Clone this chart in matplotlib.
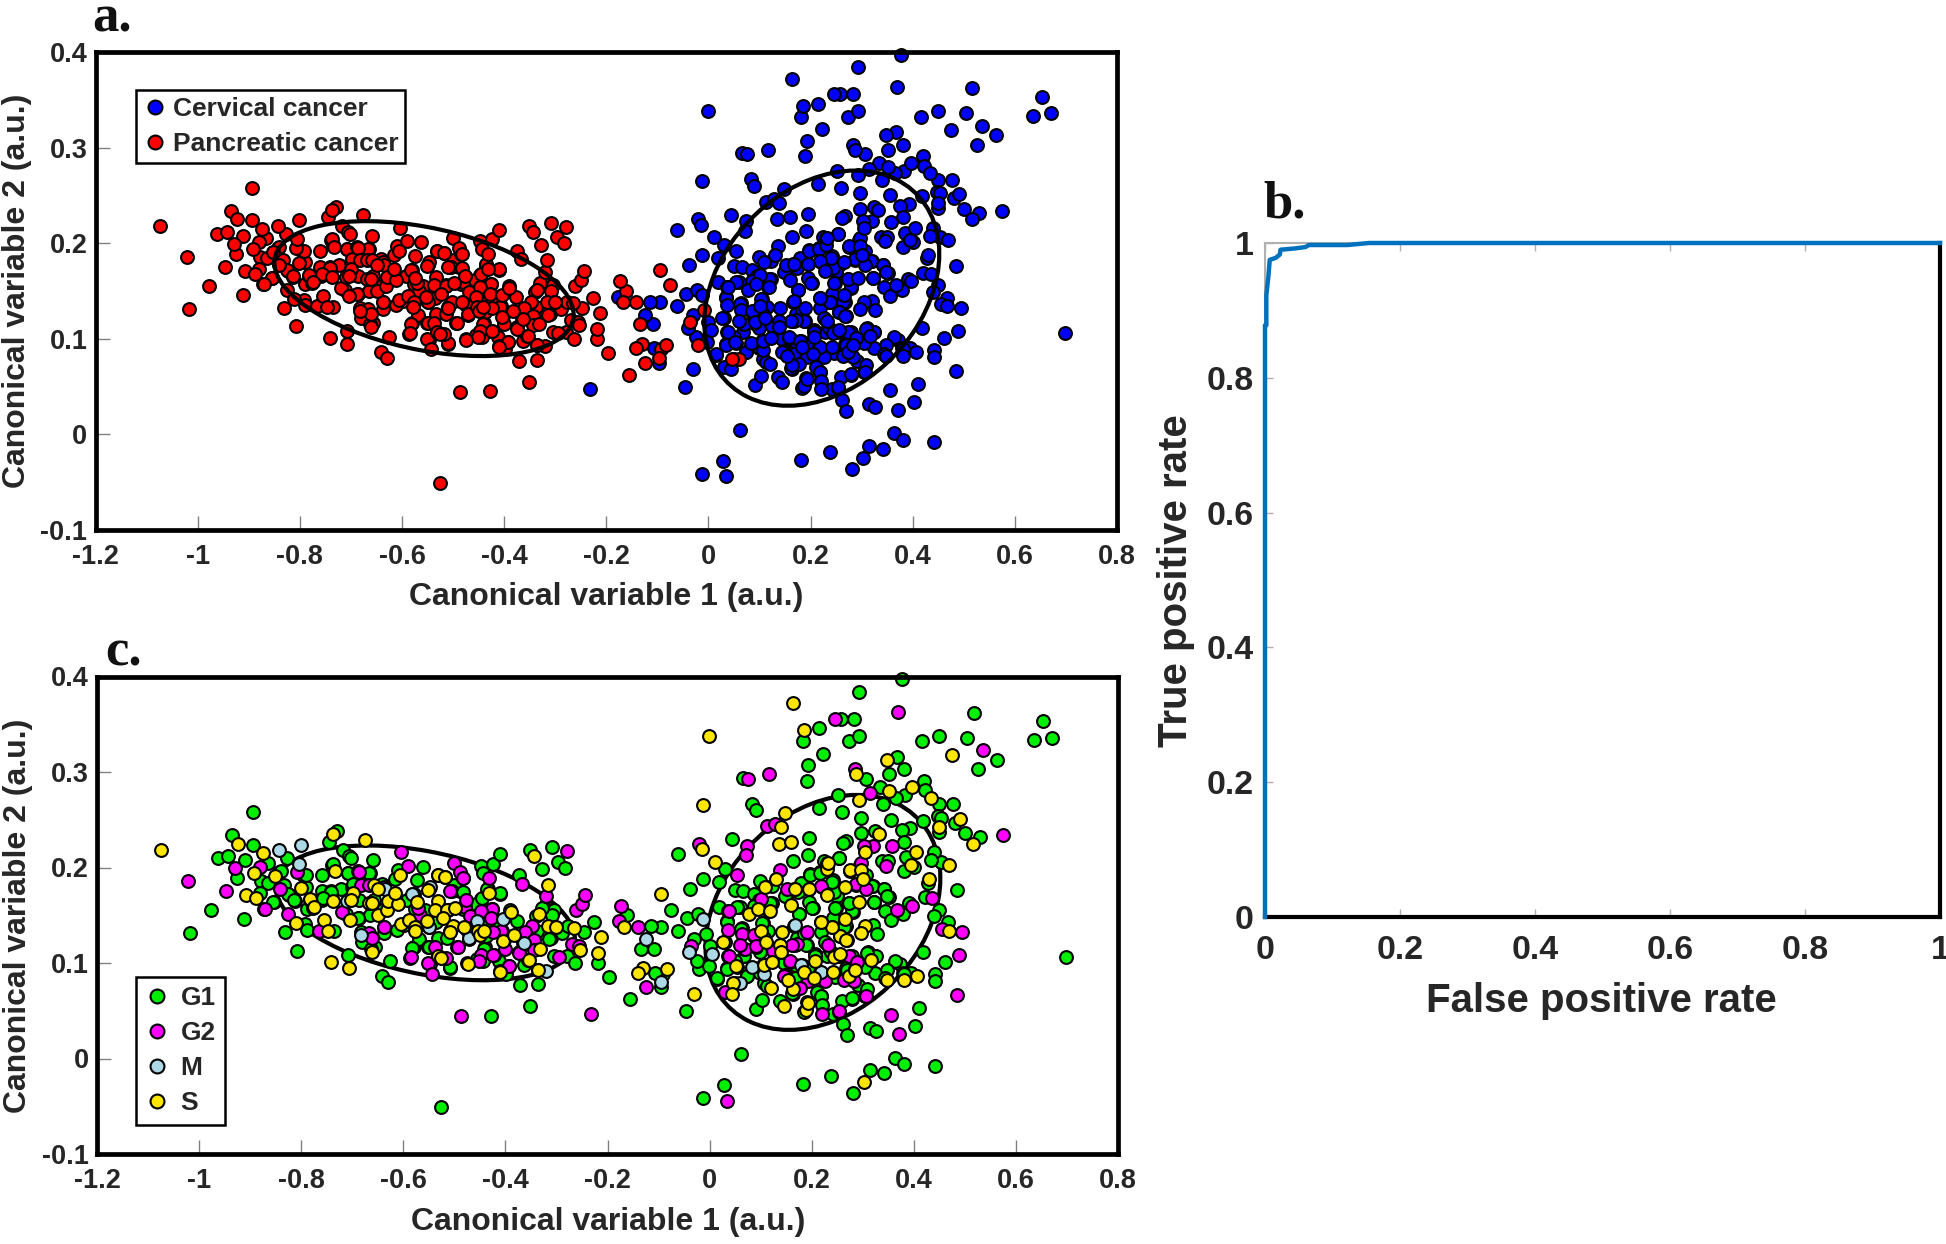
import numpy as np
import matplotlib
matplotlib.use('Agg')
import matplotlib.pyplot as plt
from matplotlib.lines import Line2D
from matplotlib.patches import Ellipse

# canonical variable 1, 2, split by cancer and cell cycle phase
pancreatic_s = [(-1.074,.218),(-.924,.225),(-.874,.215),(-.892,.194),(-.852,.191),(-.908,.171),(-.888,.168),(-.738,.235),
    (-.676,.229),(-.733,.196),(-.801,.179),(-.811,.142),(-.783,.167),(-.774,.159),(-.738,.165),(-.755,.145),(-.747,.133),
    (-.704,.145),(-.699,.173),(-.703,.166),(-.658,.182),(-.649,.177),(-.668,.163),(-.661,.163),(-.649,.150),(-.631,.155),
    (-.629,.165),(-.611,.162),(-.606,.192),(-.616,.173),(-.605,.141),(-.588,.145),(-.577,.138),(-.578,.133),(-.574,.164),
    (-.551,.176),(-.554,.144),(-.532,.192),(-.518,.190),(-.533,.165),(-.537,.156),(-.514,.155),(-.523,.147),(-.499,.158),
    (-.503,.139),(-.509,.132),(-.482,.138),(-.454,.133),(-.450,.129),(-.432,.173),(-.441,.133),(-.404,.123),(-.383,.129),
    (-.390,.153),(-.335,.151),(-.317,.182),(-.317,.139),(-.301,.138),(-.266,.137),(-.332,.115),(-.354,.103),(-.336,.093),
    (-.253,.114),(-.212,.127),(-.219,.110),(-.168,.138),(-.131,.095),(-.141,.090),(-.411,.091),(-.474,.099),(-.532,.107),
    (-.526,.105),(-.661,.112),(-.741,.101),(-.707,.095),(-.343,.212),(-.095,.172),(-.084,.094),(.046,.079)]
pancreatic_g2 = [(-1.022,.186),(-.929,.199),(-.947,.175),(-.881,.201),(-.841,.177),(-.871,.157),(-.825,.151),(-.808,.195),
    (-.766,.134),(-.720,.153),(-.686,.195),(-.683,.182),(-.668,.182),(-.638,.180),(-.667,.131),(-.638,.138),(-.661,.126),
    (-.604,.216),(-.591,.202),(-.584,.106),(-.537,.117),(-.552,.100),(-.544,.089),(-.517,.105),(-.500,.205),(-.489,.195),
    (-.483,.189),(-.509,.175),(-.480,.159),(-.477,.166),(-.469,.149),(-.493,.117),(-.448,.108),(-.452,.102),(-.424,.108),
    (-.432,.189),(-.426,.157),(-.447,.154),(-.409,.133),(-.401,.115),(-.392,.097),(-.368,.183),(-.374,.110),(-.348,.139),
    (-.362,.132),(-.344,.124),(-.343,.114),(-.320,.170),(-.279,.217),(-.262,.155),(-.250,.162),(-.244,.171),(-.270,.120),
    (-.256,.118),(-.295,.106),(-.174,.160),(-.141,.138),(-.125,.075),(-.486,.044),(-.567,.150),(-.424,.132),(-.428,.147),
    (-.571,.158),(-.036,.118)]
pancreatic_m = [(-.843,.218),(-.801,.224),(-.805,.204),(-.636,.177),(-.683,.129),(-.582,.172),(-.547,.180),(-.550,.138),
    (-.471,.126),(-.456,.144),(-.404,.146),(-.364,.121),(-.321,.092),(-.710,.165),(-.096,.080),(.060,.079)]
pancreatic_g1 = [(-1.017,.131),(-.977,.155),(-.962,.210),(-.943,.212),(-.935,.234),(-.926,.189),(-.911,.208),(-.912,.146),
    (-.894,.258),(-.894,.224),(-.879,.186),(-.866,.205),(-.865,.184),(-.854,.164),(-.843,.195),(-.828,.210),(-.834,.182),
    (-.823,.171),(-.813,.165),(-.832,.132),(-.808,.113),(-.792,.141),(-.789,.135),(-.789,.157),(-.796,.192),(-.792,.180),
    (-.760,.192),(-.760,.175),(-.759,.166),(-.742,.175),(-.723,.177),(-.740,.203),(-.745,.227),(-.729,.238),(-.718,.218),
    (-.706,.212),(-.702,.210),(-.708,.194),(-.700,.180),(-.736,.133),(-.708,.108),(-.687,.147),(-.683,.132),(-.680,.122),
    (-.665,.194),(-.659,.208),(-.665,.150),(-.638,.131),(-.626,.102),(-.642,.086),(-.629,.080),(-.656,.117),(-.612,.135),
    (-.616,.188),(-.610,.197),(-.574,.187),(-.562,.201),(-.580,.117),(-.569,.125),(-.552,.117),(-.509,.095),(-.533,.126),
    (-.514,.126),(-.526,-.051),(-.447,.202),(-.424,.204),(-.410,.214),(-.443,.194),(-.410,.172),(-.447,.167),(-.435,.177),
    (-.458,.162),(-.488,.175),(-.501,.182),(-.432,.137),(-.439,.117),(-.443,.102),(-.413,.102),(-.399,.089),(-.377,.144),
    (-.371,.077),(-.364,.098),(-.351,.055),(-.428,.045),(-.336,.078),(-.374,.192),(-.351,.218),(-.328,.198),(-.308,.221),
    (-.296,.206),(-.283,.200),(-.324,.159),(-.304,.156),(-.308,.150),(-.332,.131),(-.311,.126),(-.289,.131),(-.277,.139),
    (-.247,.132),(-.226,.143),(-.304,.107),(-.279,.107),(-.264,.100),(-.219,.100),(-.197,.085),(-.155,.062),(-.161,.150),
    (-.076,.156),(-.134,.115),(-.092,.089),(-.020,.094),(-.008,.130),
    (-.790,.180),(-.776,.158),(-.708,.194),(-.698,.183),(-.689,.196),(-.667,.194),(-.642,.183),(-.657,.166),(-.686,.166),
    (-.611,.163),(-.592,.166),(-.580,.172),(-.550,.177),(-.532,.192),(-.518,.190),(-.484,.189),(-.505,.175),(-.483,.174),
    (-.513,.156),(-.484,.157),(-.577,.157),(-.558,.155),(-.639,.155),(-.638,.138),(-.599,.140),(-.577,.137),(-.550,.138),
    (-.535,.143),(-.509,.133),(-.475,.135),(-.449,.143),(-.426,.157),(-.445,.168),(-.411,.173),(-.436,.178),(-.391,.155),
    (-.417,.144),(-.406,.134),(-.402,.124),(-.438,.128),(-.471,.125),(-.494,.117),(-.441,.115),(-.549,.117),(-.582,.116),
    (-.586,.105),(-.532,.107),(-.509,.096),(-.547,.099),(-.475,.100),(-.456,.104),(-.423,.108),(-.392,.097),(-.411,.092),
    (-.366,.121),(-.374,.112),(-.355,.103),(-.336,.093),(-.338,.133),(-.314,.125),(-.302,.138),(-.329,.158),(-.340,.149),
    (-.663,.115),(-.689,.147),(-.712,.151),(-.742,.174),(-.757,.168),(-.783,.166),(-.825,.172),(-.814,.166),(-.855,.164),
    (-.872,.157),(-.881,.173),(-.840,.196),(-.791,.192),(-.735,.198),(-.738,.204)]

cervical_s = [(-.001,.338),(-.012,.265),(.164,.372),(.185,.344),(.135,.225),(.159,.227),(.148,.257),(.139,.242),(-.015,.219),
    (.011,.206),(.078,.151),(.094,.157),(.119,.154),(.027,.122),(.100,.134),(.111,.122),(.141,.132),(.138,.119),(.139,.112),
    (.106,.098),(.052,.097),(.122,.101),(.044,.068),(.121,.074),(-.031,.068),(.145,.055),(.188,.051),(.193,.058),(.163,.073),
    (.153,.082),(.184,.091),(.205,.084),(.207,.102),(.242,.091),(.243,.106),(.255,.109),(.273,.086),(.284,.093),(.317,.103),
    (.347,.082),(.380,.082),(.406,.086),(.302,-.025),(.255,.128),(.239,.138),(.219,.143),(.266,.146),(.304,.139),(.296,.131),
    (.268,.124),(.293,.164),(.229,.171),(.265,.180),(.195,.178),(.167,.178),(.159,.161),(.131,.188),(.109,.180),(.230,.198),
    (.232,.205),(.275,.197),(.296,.197),(.301,.188),(.304,.216),(.332,.235),(.293,.271),(.286,.298),(.348,.313),(.352,.280),
    (.397,.284),(.434,.273),(.405,.216),(.394,.203),(.430,.188),(.449,.242),(.490,.251),(.516,.225),(.469,.203),(.475,.318),
    (.468,.134)]
cervical_g2 = [(.076,.293),(.117,.298),(.112,.243),(.128,.246),(.284,.303),(.245,.356),(.369,.363),(.535,.323),(.575,.234),
    (.314,.278),(.073,.223),(.072,.213),(-.021,.225),(.053,.192),(.137,.197),(.038,.154),(.100,.167),(.036,.135),(.064,.130),
    (.086,.129),(.070,.115),(.091,.118),(.059,.119),(.038,.107),(.171,.120),(.190,.132),(.232,.119),(.158,.102),(.151,.177),
    (.219,.181),(.286,.183),(.306,.177),(.297,.205),(.320,.223),(.303,.223),(.357,.222),(.346,.202),(.368,.156),(.396,.160),
    (.436,.168),(.456,.136),(.495,.132),(.488,.108),(.485,.066),(.356,.046),(.371,.026),(.254,.050),(.221,.047),(.307,.065),
    (.227,.081),(.263,.082),(.283,.081),(.273,.107),(.289,.101),(.193,.081),(.177,.074),(.145,.086),(.031,.070),(.034,-.044),
    (.125,.113),(.161,.119),(-.178,.144),(-.232,.047)]
cervical_m = [(-.013,.146),(.005,.109),(-.041,.111),(.083,.096),(.106,.088),(.167,.140),(.179,.098),(.218,.091),(-.124,.125)]
cervical_g1 = [(-.013,-.041),(.029,-.028),(.061,.005),(.182,-.027),(.238,-.018),(.281,-.036),(.315,-.012),(.342,-.015),
    (.364,.001),(.380,-.006),(.442,-.008),(-.046,.050),(.091,.052),(.102,.061),(.137,.060),(.262,.036),(.270,.025),(.314,.032),
    (.326,.029),(.402,.034),(.410,.053),(.699,.106),(.654,.353),(.635,.333),(.671,.336),(.517,.362),(.504,.336),(.449,.338),
    (.417,.332),(.563,.313),(.525,.303),(.293,.384),(.377,.397),(.283,.356),(.258,.356),(.214,.346),(.182,.332),(.273,.332),
    (.293,.338),(.223,.319),(.193,.307),(.190,.291),(.066,.294),(.367,.316),(.381,.303),(.351,.298),(.306,.293),(.334,.284),
    (.420,.291),(.422,.281),(.382,.276),(.365,.273),(.340,.266),(.252,.276),(.214,.262),(.260,.258),(.297,.252),(.083,.267),
    (.090,.260),(.477,.266),(.450,.266),(.447,.254),(.454,.252),(.480,.247),(.501,.236),(.530,.232),(.419,.249),(.450,.237),
    (.393,.241),(.376,.239),(.356,.250),(.381,.227),(.324,.238),(.297,.236),(.267,.228),(.262,.226),(.195,.231),(.192,.213),
    (.044,.230),(-.061,.214),(.163,.207),(.254,.210),(.225,.207),(.197,.193),(.216,.195),(.242,.187),(.180,.184),(.099,.186),
    (.122,.181),(.050,.176),(.065,.175),(.086,.172),(.122,.163),(.149,.170),(.174,.174),(.195,.164),(.203,.158),(.255,.177),
    (.249,.170),(.247,.158),(.273,.163),(.280,.153),(.176,.151),(.322,.164),(.320,.181),(.342,.177),(.351,.169),(.343,.154),
    (.356,.145),(.379,.151),(.391,.163),(.421,.169),(.454,.206),(.439,.216),(.434,.208),(.384,.211),(.400,.201),(.380,.196),
    (.337,.207),(.350,.207),(.428,.184),(.449,.156),(.439,.149),(.467,.143),(.484,.176),(.019,.185),(.031,.198),(-.012,.188),
    (-.038,.177),(.019,.159),(.059,.159),(-.044,.147),(-.023,.151),(-.062,.134),(-.095,.138),(-.114,.139),(-.109,.115),
    (.000,.118),(-.030,.125),(-.025,.102),(-.002,.097),(.014,.083),(.035,.095),(.073,.086),(-.107,.090),(-.096,.075),(.035,.144),
    (.063,.137),(.105,.142),(.115,.133),(.099,.111),(.068,.107),(.050,.102),(.190,.119),(.171,.126),(.219,.132),(.242,.147),
    (.267,.139),(.320,.140),(.327,.130),(.419,.111),(.461,.101),(.372,.099),(.363,.102),(.442,.088),(.442,.081),(.395,.090),
    (.379,.090),(.347,.093),(.324,.090),(.311,.111),(.324,.107),(.307,.098),(.268,.095),(.229,.107),(.206,.109),(.167,.098),
    (.145,.100),(.099,.090),(.219,.065),(.210,.070),(.163,.068),(.307,.072),(.291,.077),(.279,.062),(.260,.060),(.242,.047),
    (.107,.079),
    (.148,.170),(.165,.178),(.194,.178),(.220,.180),(.243,.174),(.286,.182),(.275,.196),(.307,.192),(.295,.203),(.253,.210),
    (.230,.205),(.197,.192),(.216,.194),(.240,.185),(.318,.181),(.341,.177),(.348,.170),(.322,.164),(.279,.154),(.273,.163),
    (.246,.158),(.201,.158),(.175,.151),(.166,.139),(.184,.130),(.218,.143),(.239,.138),(.263,.138),(.256,.128),(.269,.124),
    (.227,.122),(.237,.111),(.188,.119),(.168,.119),(.137,.113),(.090,.117),(.068,.115),(.107,.126),(.086,.128),(.062,.136),
    (.103,.142),(.116,.154),(.119,.163),(.096,.166),(.086,.160),(.054,.159),(.036,.154),(.034,.143),(.031,.122),(.037,.107),
    (.034,.094),(.054,.096),(.104,.098),(.157,.101),(.181,.098),(.201,.094),(.217,.091),(.246,.085),(.269,.093),(.284,.094),
    (.305,.096),(.325,.107),(.308,.110),(.279,.107),(.253,.107),(.207,.107),(.168,.084),(.148,.087),(.161,.069),(.191,.059),
    (.218,.065),(.220,.056),(.184,.049),(.253,.049),(.279,.063),(.305,.065),(.308,.073),(.344,.084),(.380,.089),(.112,.076),
    (.073,.086),(.014,.084),(.050,.079)]

# false positive rate, true positive rate of the ROC curve
roc_fpr = [0, 0, .002, .002, .005, .007, .016, .022, .023, .045, .06, .065, .122, .154, 1]
roc_tpr = [0, .878, .878, .923, .95, .975, .978, .983, .99, .992, .994, .997, .997, 1, 1]

canon_xticks = [-1.2, -1, -.8, -.6, -.4, -.2, 0, .2, .4, .6, .8]
canon_xlabels = ['-1.2', '-1', '-0.8', '-0.6', '-0.4', '-0.2', '0', '0.2', '0.4', '0.6', '0.8']
canon_yticks = [-.1, 0, .1, .2, .3, .4]
canon_ylabels = ['-0.1', '0', '0.1', '0.2', '0.3', '0.4']
roc_ticks = [0, .2, .4, .6, .8, 1]
roc_labels = ['0', '0.2', '0.4', '0.6', '0.8', '1']

W, H = 1946, 1244
TEXT = '#262626'
plt.rcParams['font.family'] = ['Liberation Sans', 'DejaVu Sans']
plt.rcParams['font.weight'] = 'bold'

fig = plt.figure(figsize=(W / 100, H / 100), dpi=100)


def box(left, top, right, bottom):
    return fig.add_axes([left / W, 1 - bottom / H, (right - left) / W, (bottom - top) / H])


def dots(ax, points, color, zorder=3):
    xy = np.array(points).T
    ax.scatter(xy[0], xy[1], s=85, c=color, edgecolors='black', linewidths=1.5, zorder=zorder, clip_on=False)


def canon_axes(ax):
    ax.set_xlim(-1.2, .8)
    ax.set_ylim(-.1, .4)
    ax.set_xticks(canon_xticks, canon_xlabels)
    ax.set_yticks(canon_yticks, canon_ylabels)
    ax.tick_params(direction='in', length=10, width=1, color='#808080', labelsize=19.5, labelcolor=TEXT)
    ax.tick_params(axis='x', pad=10)
    ax.tick_params(axis='y', pad=6)
    for spine in ax.spines.values():
        spine.set_linewidth(3.4)
        spine.set_zorder(6)


def ellipses(ax, zorder):
    ax.add_patch(Ellipse((-.557, .1525), .5886, .1296, angle=-5.58, fill=False, ec='black', lw=3, zorder=zorder))
    ax.add_patch(Ellipse((.222, .153), .4674, .2318, angle=11.74, fill=False, ec='black', lw=3, zorder=zorder))


def key(ax, names, colors, anchor, borderpad, spacing, textpad):
    handles = [Line2D([], [], ls='', marker='o', ms=10, mfc=c, mec='black', mew=1.5) for c in colors]
    leg = ax.legend(handles, names, loc='upper left', bbox_to_anchor=anchor, fontsize=19, fancybox=False,
                    framealpha=1, edgecolor='black', handlelength=.9, handletextpad=textpad, borderpad=borderpad,
                    labelspacing=spacing, labelcolor=TEXT, borderaxespad=0)
    leg.get_frame().set_linewidth(1.8)
    leg.set_zorder(7)


# a.
ax = box(95.6, 52, 1117, 530)
canon_axes(ax)
ellipses(ax, 5)
dots(ax, cervical_g1 + cervical_g2 + cervical_m + cervical_s, '#0000ff', 3)
dots(ax, pancreatic_g1 + pancreatic_g2 + pancreatic_m + pancreatic_s, '#ff0000', 4)
key(ax, ['Cervical cancer', 'Pancreatic cancer'], ['#0000ff', '#ff0000'], (.0396, .92), .25, .42, .25)

# c.
ax = box(97, 676.5, 1118, 1154)
canon_axes(ax)
ellipses(ax, 2)
dots(ax, pancreatic_g1 + cervical_g1, '#00ee00', 3)
dots(ax, pancreatic_g2 + cervical_g2, '#ff00ff', 3.1)
dots(ax, pancreatic_m + cervical_m, '#add8e6', 3.2)
dots(ax, pancreatic_s + cervical_s, '#ffe600', 3.3)
key(ax, ['G1', 'G2', 'M', 'S'], ['#00ee00', '#ff00ff', '#add8e6', '#ffe600'], (.038, .371), .35, .42, .45)

# b.
ax = box(1265, 243, 1940, 917)
ax.plot(roc_fpr, roc_tpr, color='#0072bd', lw=3.2, clip_on=False, zorder=4)
ax.set_xlim(0, 1)
ax.set_ylim(0, 1)
ax.set_xticks(roc_ticks, roc_labels)
ax.set_yticks(roc_ticks, roc_labels)
ax.tick_params(direction='in', length=6, width=1, color='#b0b0b0', labelsize=24.5, labelcolor=TEXT, top=True)
ax.tick_params(axis='x', pad=13)
ax.tick_params(axis='y', pad=8)
ax.spines['top'].set_color('#b0b0b0')
ax.spines['top'].set_linewidth(1.5)
ax.spines['left'].set_color('#b0b0b0')
ax.spines['left'].set_linewidth(1.5)
ax.spines['right'].set_linewidth(3)
ax.spines['bottom'].set_linewidth(3)

# axis labels and panel letters
fig.text(606 / W, 1 - 597 / H, 'Canonical variable 1 (a.u.)', ha='center', va='center', fontsize=23, color=TEXT)
fig.text(608 / W, 1 - 1222 / H, 'Canonical variable 1 (a.u.)', ha='center', va='center', fontsize=23, color=TEXT)
fig.text(17 / W, 1 - 291 / H, 'Canonical variable 2 (a.u.)', ha='center', va='center', rotation=90, fontsize=23, color=TEXT)
fig.text(18 / W, 1 - 916 / H, 'Canonical variable 2 (a.u.)', ha='center', va='center', rotation=90, fontsize=23, color=TEXT)
fig.text(1601 / W, 1 - 1001 / H, 'False positive rate', ha='center', va='center', fontsize=29, color=TEXT)
fig.text(1176 / W, 1 - 581 / H, 'True positive rate', ha='center', va='center', rotation=90, fontsize=29, color=TEXT)
for letter, lx, ly in [('a.', 92, 31), ('b.', 1263, 218), ('c.', 105, 666)]:
    fig.text(lx / W, 1 - ly / H, letter, ha='left', va='baseline', fontsize=38, family='Liberation Serif', color='#111111')

fig.savefig('out.png', dpi=100)
